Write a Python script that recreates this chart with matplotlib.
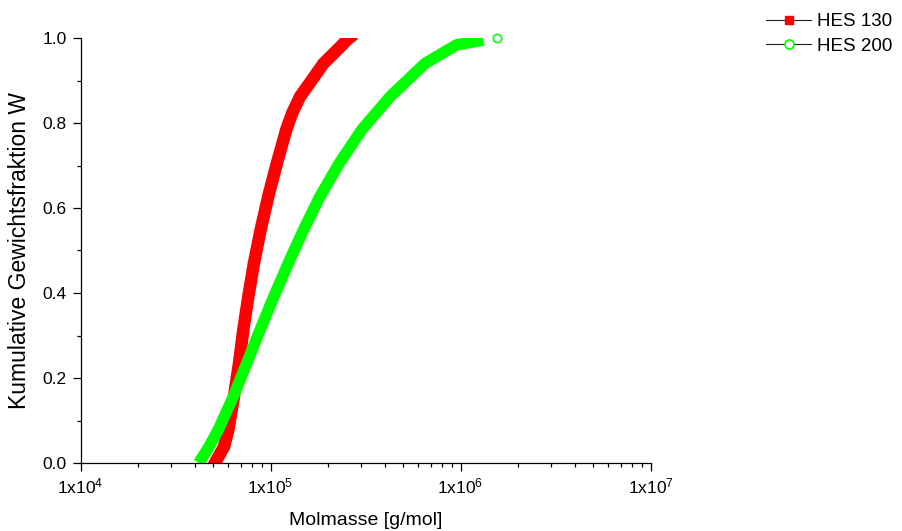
#!/usr/bin/env python3

import math
# plotting
import matplotlib
matplotlib.use("Agg")
import matplotlib.pyplot as plt
from matplotlib.lines import Line2D
from matplotlib.ticker import FixedLocator, LogLocator, FuncFormatter, MultipleLocator

## DATA
# HES 130, cumulative weight fraction vs molar mass [g/mol]
hes130_m = [5.1e4, 5.69e4, 6.0e4, 6.42e4, 6.83e4, 7.19e4, 7.64e4, 8.18e4,
            8.87e4, 9.73e4, 1.08e5, 1.21e5, 1.30e5, 1.43e5, 1.65e5, 1.90e5,
            2.34e5, 2.52e5, 2.6e5]
hes130_w = [0.0, 0.038, 0.078, 0.156, 0.235, 0.313, 0.391, 0.470,
            0.548, 0.627, 0.705, 0.784, 0.823, 0.862, 0.901, 0.940,
            0.980, 0.995, 1.0]
# HES 200
hes200_m = [4.2e4, 4.29e4, 4.74e4, 5.31e4, 6.37e4, 7.5e4, 8.81e4, 1.04e5, 1.24e5,
            1.49e5, 1.82e5, 2.30e5, 3.02e5, 4.26e5, 6.5e5, 9.55e5, 1.32e6, 1.55e6]
hes200_w = [0.0, 0.007, 0.038, 0.078, 0.156, 0.235, 0.313, 0.391, 0.470,
            0.548, 0.627, 0.705, 0.784, 0.862, 0.940, 0.984, 0.995, 1.0]

labels = ["HES 130", "HES 200"]
x_ticks = [1e4, 1e5, 1e6, 1e7]
y_ticks = [0.0, 0.2, 0.4, 0.6, 0.8, 1.0]

RED = "#ff0000"
GREEN = "#00ff00"

plt.rcParams["font.family"] = ["Liberation Sans", "DejaVu Sans"]
plt.rcParams["mathtext.default"] = "regular"

fig = plt.figure(figsize=(9.02, 5.31), dpi=100)
ax = fig.add_axes([80.5 / 902, 68 / 531, 570 / 902, 425 / 531])

# thick curves (dense symbols in the original)
ax.plot(hes130_m, hes130_w, color=RED, lw=9, solid_capstyle="projecting",
        solid_joinstyle="round")
ax.plot(hes200_m[:-1], hes200_w[:-1], color=GREEN, lw=8.3, solid_capstyle="butt",
        solid_joinstyle="round")
ax.plot(hes200_m[-1:], hes200_w[-1:], ls="none", marker="o", ms=6,
        mfc="white", mec=GREEN, mew=1.2, clip_on=False)

ax.set_xscale("log")
ax.set_xlim(1e4, 1e7)
ax.set_ylim(0, 1)

ax.xaxis.set_major_locator(FixedLocator(x_ticks))
ax.xaxis.set_minor_locator(LogLocator(base=10, subs=range(2, 10), numticks=20))
ax.xaxis.set_major_formatter(FuncFormatter(lambda v, p: r"1x10$^{%d}$" % round(math.log10(v))))
ax.yaxis.set_major_locator(FixedLocator(y_ticks))
ax.yaxis.set_minor_locator(MultipleLocator(0.1))
ax.yaxis.set_major_formatter(FuncFormatter(lambda v, p: "%.1f" % v))

for s in ["top", "right"]:
    ax.spines[s].set_visible(False)
for s in ["left", "bottom"]:
    ax.spines[s].set_linewidth(0.9)

ax.tick_params(which="major", direction="out", length=6, width=0.9,
               labelsize=12.5, pad=4)
ax.tick_params(which="minor", direction="out", length=3, width=0.9)

ax.set_xlabel("Molmasse [g/mol]", fontsize=14, labelpad=11)
ax.set_ylabel("Kumulative Gewichtsfraktion W", fontsize=16.5, labelpad=8)

handles = [
    Line2D([], [], color="#222222", lw=0.8, marker="s", ms=6, mfc=RED, mec=RED),
    Line2D([], [], color="#222222", lw=0.8, marker="o", ms=6.5, mfc="white", mec=GREEN, mew=1.2),
]
fig.legend(handles, labels, loc="upper left", bbox_to_anchor=(766 / 902, 1 - 13 / 531),
           frameon=False, fontsize=13.5, handlelength=2.4, handletextpad=0.3,
           labelspacing=0.4, borderpad=0, borderaxespad=0)

fig.savefig("out.png", dpi=100)
